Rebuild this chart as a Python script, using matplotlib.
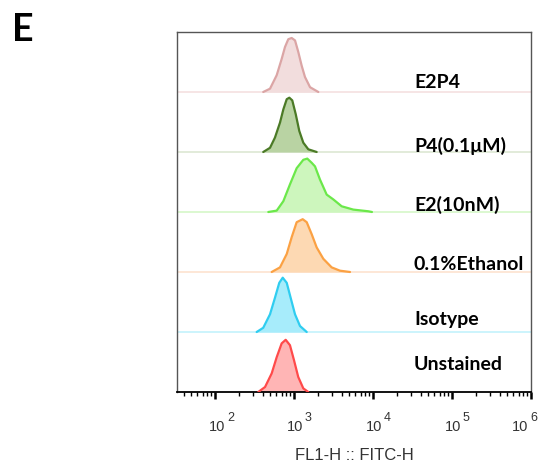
import matplotlib
matplotlib.use("Agg")
import matplotlib.pyplot as plt
from matplotlib.ticker import LogLocator, NullFormatter
from matplotlib.transforms import blended_transform_factory, offset_copy

# ---- data (FITC-H intensity, relative count as fraction of lane height) ----
samples = ["Unstained", "Isotype", "0.1%Ethanol", "E2(10nM)", "P4(0.1μM)", "E2P4"]

unstained_x = [353, 430, 522, 604, 698, 785, 889, 1000, 1132, 1312, 1517]
unstained_y = [0, .083, .31, .58, .81, .87, .78, .53, .25, .06, 0]

isotype_x = [337, 408, 497, 574, 651, 720, 809, 907, 1030, 1191, 1449]
isotype_y = [0, .07, .295, .57, .82, .905, .82, .57, .295, .10, 0]

ethanol_x = [522, 665, 809, 935, 1081, 1288, 1449, 1675, 1936, 2350, 2997, 3817, 5117]
ethanol_y = [0, .077, .30, .58, .83, .88, .83, .63, .41, .22, .077, .022, 0]

e2_x = [473, 604, 733, 889, 1081, 1312, 1473, 1675, 1845, 2134, 2592, 3143, 4015, 5633, 8729, 9700]
e2_y = [0, .023, .18, .46, .73, .87, .89, .82, .76, .54, .29, .21, .095, .04, .012, 0]

p4_x = [408, 497, 574, 665, 733, 809, 873, 951, 1052, 1167, 1312, 1517, 1936]
p4_y = [0, .07, .24, .49, .71, .88, .905, .86, .63, .35, .155, .045, 0]

e2p4_x = [408, 497, 604, 698, 769, 847, 935, 1030, 1132, 1250, 1377, 1596, 2032]
e2p4_y = [0, .055, .28, .55, .75, .88, .90, .86, .67, .44, .25, .08, 0]

xs = [unstained_x, isotype_x, ethanol_x, e2_x, p4_x, e2p4_x]
ys = [unstained_y, isotype_y, ethanol_y, e2_y, p4_y, e2p4_y]

tick_values = [1e2, 1e3, 1e4, 1e5, 1e6]
tick_exponents = ["2", "3", "4", "5", "6"]
tick_label_shift = [2, 1, 1, 1, -11]

line_colors = ["#ff4a4a", "#2fcdf0", "#fba143", "#6be84a", "#4b7a26", "#dba5a5"]
fill_colors = ["#ffb5b5", "#a7ecfb", "#fdd9b3", "#cdf6bd", "#b9d3a3", "#f2dddd"]
base_colors = ["#ff4a4a", "#c4f2fc", "#fde3cf", "#d5f7c8", "#dde8d3", "#f5e0e0"]

label_ypx = [364, 319, 265, 205, 146, 82]

W, H = 542, 468
fig = plt.figure(figsize=(W / 100, H / 100), dpi=100)
ax = fig.add_axes([177 / W, 1 - 392 / H, 354 / W, 360 / H])

for i in range(len(samples)):
    base = i
    yy = [base + v for v in ys[i]]
    if i > 0:
        ax.axhline(base, color=base_colors[i], lw=1.2, zorder=1)
    ax.fill_between(xs[i], base, yy, color=fill_colors[i], lw=0, zorder=2)
    ax.plot(xs[i], yy, color=line_colors[i], lw=1.6, solid_joinstyle="round",
            solid_capstyle="round", zorder=3)
    fig.text(414 / W, 1 - label_ypx[i] / H, samples[i], family=["Lato", "DejaVu Sans"],
             fontweight="bold", fontsize=14, va="center", ha="left", color="black")

ax.set_xscale("log")
ax.set_xlim(10 ** 1.519, 1e6)
ax.set_ylim(0, 6)
ax.set_yticks([])
ax.set_xticks(tick_values)
ax.set_xticklabels([""] * len(tick_values))
ax.xaxis.set_minor_locator(LogLocator(base=10, subs=range(2, 10), numticks=20))
ax.xaxis.set_minor_formatter(NullFormatter())
ax.tick_params(axis="x", which="major", direction="out", length=5, width=1.8, color="black")
ax.tick_params(axis="x", which="minor", direction="out", length=3, width=1.0, color="black")

# custom "10^n" labels
tr = blended_transform_factory(ax.transData, ax.transAxes)
for v, e, dx in zip(tick_values, tick_exponents, tick_label_shift):
    t10 = offset_copy(tr, fig=fig, x=dx, y=-35, units="dots")
    ax.text(v, 0, "10", transform=t10, ha="center", va="center", fontsize=10.5,
            family=["Liberation Sans", "DejaVu Sans"], color="#333333", clip_on=False)
    texp = offset_copy(tr, fig=fig, x=dx + 10, y=-26, units="dots")
    ax.text(v, 0, e, transform=texp, ha="left", va="center", fontsize=9,
            family=["Liberation Sans", "DejaVu Sans"], color="#333333", clip_on=False)

for s in ["top", "left", "right"]:
    ax.spines[s].set_color("#555555")
    ax.spines[s].set_linewidth(1.0)
ax.spines["bottom"].set_color("black")
ax.spines["bottom"].set_linewidth(1.3)

fig.text(354 / W, 1 - 455 / H, "FL1-H :: FITC-H", family=["Liberation Sans", "DejaVu Sans"],
         fontsize=12, color="#333333", ha="center", va="center")
fig.text(12 / W, 1 - 30 / H, "E", family=["Lato", "DejaVu Sans"], fontweight="bold",
         fontsize=27, ha="left", va="center", color="black")

fig.savefig("out.png", dpi=100)
